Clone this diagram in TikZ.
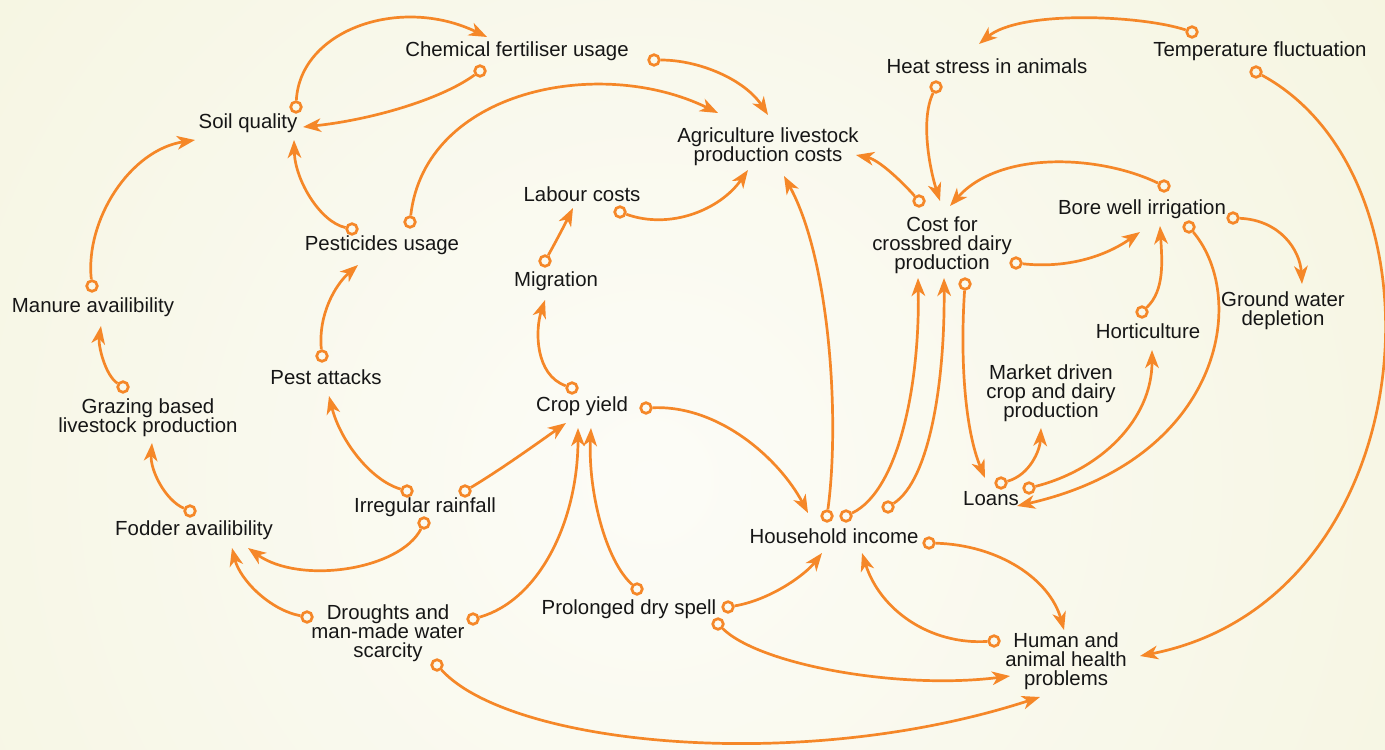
\documentclass[tikz,border=0pt]{standalone}
\usepackage{fontspec}
\setmainfont{Liberation Sans}
\usetikzlibrary{arrows.meta}
\definecolor{orng}{RGB}{245,135,40}
\definecolor{bgin}{RGB}{252,252,247}
\definecolor{bgout}{RGB}{240,239,206}
\definecolor{txt}{RGB}{22,22,22}
\newcommand\causal[5]{%
  \node[dot] (#1s) at (#2) {};
  \coordinate (#1e) at (#5);
  \draw[link] (#1s) .. controls (#3) and (#4) .. (#1e);
}
\begin{document}
\begin{tikzpicture}[x=0.5pt,y=-0.5pt,
  lbl/.style={text=txt,font=\fontsize{10.2}{9.6}\selectfont,align=center,inner sep=1pt},
  dot/.style={circle,draw=orng,line width=1.35pt,inner sep=0pt,minimum size=5.3pt},
  link/.style={draw=orng,line width=1.35pt,-{Stealth[length=9pt,width=6.8pt,inset=2.6pt]}}]
\useasboundingbox (0,0) rectangle (1385,749);
\begin{scope}
  \clip (0,0) rectangle (1385,749);
  \fill[bgout] (0,0) rectangle (1385,749);
  \shade[inner color=bgin,outer color=bgout] (650,480) circle (1650);
\end{scope}
% text nodes
\node[lbl] (chem) at (517,51) {Chemical fertiliser usage};
\node[lbl] (soil) at (248,123) {Soil quality};
\node[lbl] (agri) at (768,147) {Agriculture livestock\\production costs};
\node[lbl] (heat) at (987,66) {Heat stress in animals};
\node[lbl] (temp) at (1260,51) {Temperature fluctuation};
\node[lbl] (labour) at (582,194) {Labour costs};
\node[lbl] (cost) at (942,245) {Cost for\\crossbred dairy\\production};
\node[lbl] (bore) at (1142,209) {Bore well irrigation};
\node[lbl] (pest) at (382,245) {Pesticides usage};
\node[lbl] (migr) at (556,281) {Migration};
\node[lbl] (manure) at (93,307) {Manure availibility};
\node[lbl] (ground) at (1283,311) {Ground water\\depletion};
\node[lbl] (hort) at (1148,331) {Horticulture};
\node[lbl] (market) at (1051,393) {Market driven\\crop and dairy\\production};
\node[lbl] (attacks) at (326,377) {Pest attacks};
\node[lbl] (crop) at (582,406) {Crop yield};
\node[lbl] (grazing) at (148,418) {Grazing based\\livestock production};
\node[lbl] (loans) at (991,499) {Loans};
\node[lbl] (rain) at (425,507) {Irregular rainfall};
\node[lbl] (fodder) at (194,530) {Fodder availibility};
\node[lbl] (house) at (834,536) {Household income};
\node[lbl] (dry) at (629,609) {Prolonged dry spell};
\node[lbl] (drought) at (388,633) {Droughts and\\man-made water\\scarcity};
\node[lbl] (health) at (1066,661) {Human and\\animal health\\problems};
% links
\causal{a1}{296,107}{300,30}{400,-5}{487,37}
\causal{a2}{480,71}{440,100}{370,120}{303,127}
\causal{a3}{654,60}{700,60}{745,80}{768,115}
\causal{a4}{410,222}{425,90}{600,55}{718,113}
\causal{a5}{352,229}{320,222}{295,180}{294,140}
\causal{a6}{92,286}{85,220}{130,150}{195,140}
\causal{a7}{123,387}{105,375}{98,345}{101,326}
\causal{a8}{190,511}{165,500}{150,470}{152,443}
\causal{a9}{322,356}{318,315}{335,285}{358,265}
\causal{a10}{407,491}{370,480}{340,440}{329,396}
\causal{a11}{465,491}{500,470}{535,445}{566,423}
\causal{a12}{424,523}{400,570}{300,585}{248,548}
\causal{a13}{307,617}{270,610}{240,580}{232,548}
\causal{a14}{473,619}{540,600}{578,520}{578,428}
\causal{a15}{437,665}{510,745}{800,775}{1040,697}
\causal{a16}{637,589}{605,560}{588,490}{591,428}
\causal{a17}{728,607}{770,600}{805,575}{822,553}
\causal{a18}{718,624}{760,665}{900,690}{1010,676}
\causal{a19}{572,388}{535,375}{535,330}{545,300}
\causal{a20}{545,261}{554,245}{563,228}{573,208}
\causal{a21}{620,212}{670,230}{720,210}{748,170}
\causal{a22}{646,408}{720,405}{780,460}{808,513}
\causal{a23}{827,516}{840,420}{830,260}{784,176}
\causal{a24}{846,516}{900,490}{920,380}{918,278}
\causal{a25}{888,507}{930,480}{945,380}{944,278}
\causal{a26}{929,543}{1000,545}{1050,580}{1064,630}
\causal{a27}{994,641}{930,645}{880,610}{862,553}
\causal{a28}{919,201}{905,185}{880,160}{856,155}
\causal{a29}{936,87}{920,120}{930,170}{940,201}
\causal{a30}{1192,32}{1140,15}{1020,10}{979,44}
\causal{a31}{1256,72}{1455,180}{1425,600}{1140,656}
\causal{a32}{1164,186}{1100,155}{1000,150}{950,206}
\causal{a33}{1016,263}{1060,268}{1100,260}{1140,232}
\causal{a34}{965,284}{960,360}{965,430}{985,478}
\causal{a35}{1233,218}{1280,220}{1300,250}{1302,284}
\causal{a36}{1189,227}{1250,300}{1220,460}{1017,506}
\causal{a37}{1142,312}{1165,290}{1162,260}{1160,226}
\causal{a38}{1029,488}{1100,470}{1152,420}{1152,350}
\causal{a39}{1001,483}{1030,475}{1040,450}{1041,428}
\end{tikzpicture}
\end{document}
